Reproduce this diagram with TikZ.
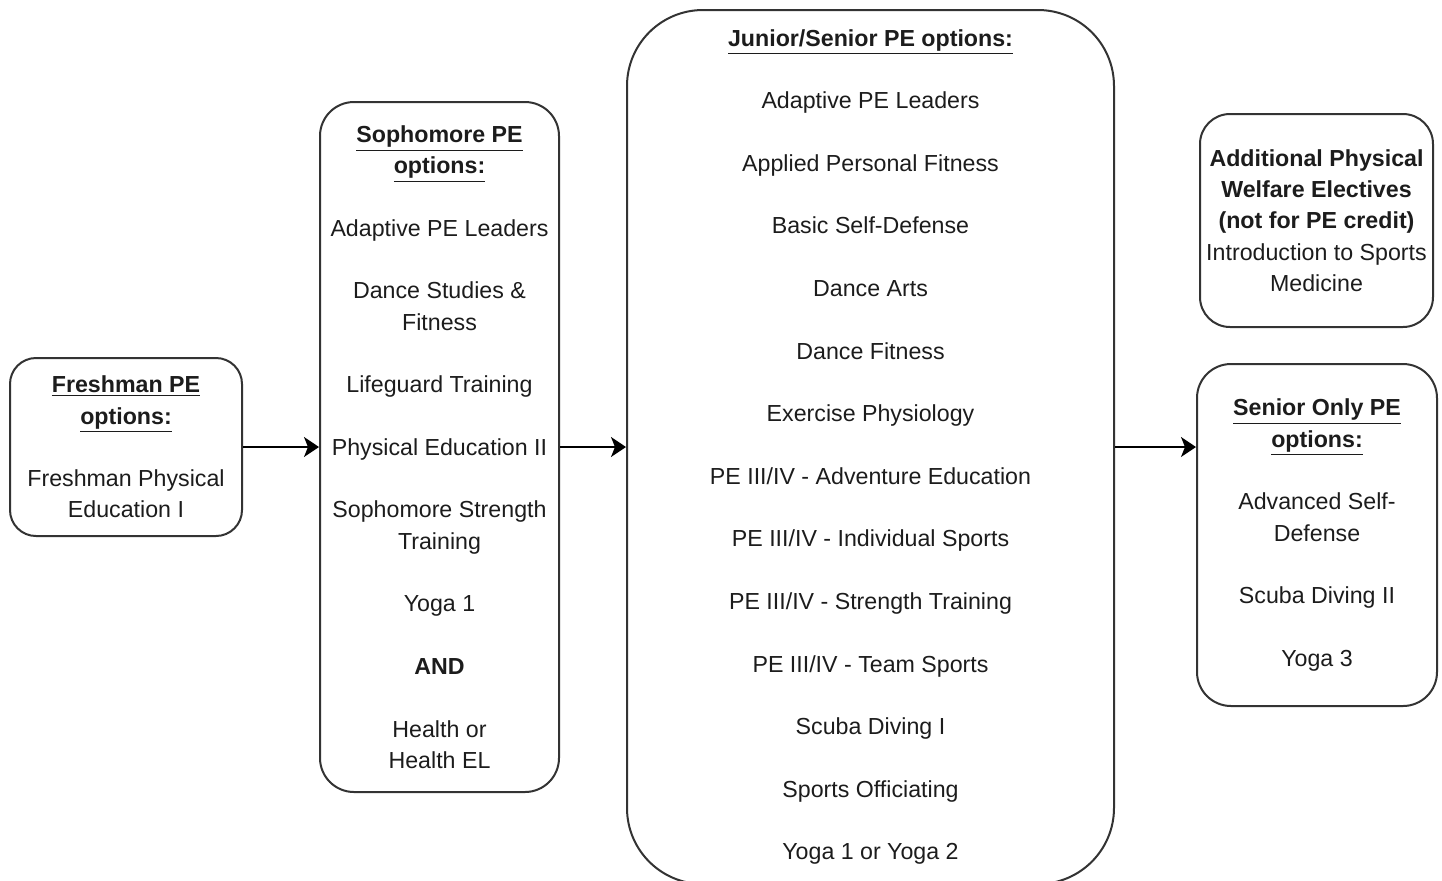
\documentclass[tikz,border=0pt]{standalone}
\usepackage{fontspec}
\setmainfont{Liberation Sans}
\usepackage{xcolor}
\usetikzlibrary{arrows.meta,positioning}

\definecolor{boxgray}{HTML}{333333}
\definecolor{textgray}{HTML}{1C1C1C}

\newcommand{\pehead}[1]{\textbf{\underline{#1}}}
\newlength{\pegap}
\setlength{\pegap}{15.65pt}

\tikzset{
  pebox/.style={draw=boxgray,line width=1pt,rounded corners=#1,
    align=center,inner sep=0pt,text=textgray,
    font=\fontsize{11.6}{15.65}\selectfont},
  pebox/.default=15pt,
  pearrow/.style={-{Stealth[length=7.5pt,width=10pt,inset=2pt]},line width=1pt}
}

\begin{document}
\begin{tikzpicture}[
  x=0.5pt,
  y=-0.5pt
]

  % --------------------------------------------------------------
  % Page frame; the big middle box runs off the bottom edge.
  % --------------------------------------------------------------
  \path[use as bounding box] (0,0) rectangle (1442,880);
  \clip (0,0) rectangle (1442,880);


  % --------------------------------------------------------------
  % One box per grade level.
  % --------------------------------------------------------------
  \node[pebox=13pt,minimum width=116pt,minimum height=89pt]
    (nFresh) at (126,447)
    {\pehead{Freshman PE}\\\pehead{options:}\\[\pegap]
     Freshman Physical\\Education I};

  \node[pebox=17pt,minimum width=119.5pt,minimum height=345pt]
    (nSoph) at (439.5,447)
    {\pehead{Sophomore PE}\\\pehead{options:}\\[\pegap]
     Adaptive PE Leaders\\[\pegap]
     Dance Studies \&\\Fitness\\[\pegap]
     Lifeguard Training\\[\pegap]
     Physical Education II\\[\pegap]
     Sophomore Strength\\Training\\[\pegap]
     Yoga 1\\[\pegap]
     \textbf{AND}\\[\pegap]
     Health or\\Health EL};

  \node[pebox=38pt,minimum width=243.5pt,minimum height=437pt]
    (nJunSen) at (870.5,447)
    {\pehead{Junior/Senior PE options:}\\[\pegap]
     Adaptive PE Leaders\\[\pegap]
     Applied Personal Fitness\\[\pegap]
     Basic Self-Defense\\[\pegap]
     Dance Arts\\[\pegap]
     Dance Fitness\\[\pegap]
     Exercise Physiology\\[\pegap]
     PE III/IV - Adventure Education\\[\pegap]
     PE III/IV - Individual Sports\\[\pegap]
     PE III/IV - Strength Training\\[\pegap]
     PE III/IV - Team Sports\\[\pegap]
     Scuba Diving I\\[\pegap]
     Sports Officiating\\[\pegap]
     Yoga 1 or Yoga 2};

  \node[pebox=15pt,minimum width=116.5pt,minimum height=106.5pt]
    (nAddl) at (1316.5,220.5)
    {\textbf{Additional Physical}\\\textbf{Welfare Electives}\\
     \textbf{(not for PE credit)}\\
     Introduction to Sports\\Medicine};

  \node[pebox=17pt,minimum width=120pt,minimum height=171pt]
    (nSenior) at (1317,535)
    {\pehead{Senior Only PE}\\\pehead{options:}\\[\pegap]
     Advanced Self-\\Defense\\[\pegap]
     Scuba Diving II\\[\pegap]
     Yoga 3};


  % --------------------------------------------------------------
  % Progression from one year to the next.
  % --------------------------------------------------------------
  \draw[pearrow] (nFresh) -- (nSoph);
  \draw[pearrow] (nSoph) -- (nJunSen);
  \draw[pearrow] (nJunSen.east) -- (nJunSen.east -| nSenior.west);

\end{tikzpicture}
\end{document}
